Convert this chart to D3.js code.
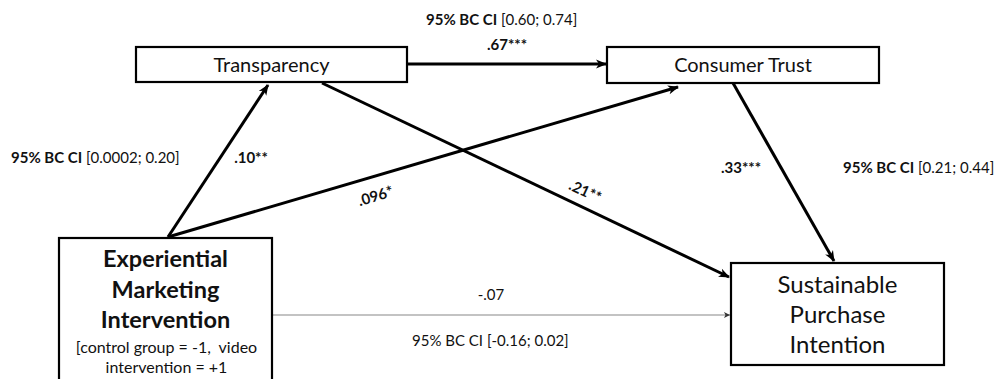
<!DOCTYPE html>
<html><head><meta charset="utf-8">
<script src="https://cdn.jsdelivr.net/npm/d3@7"></script>
<style>
html,body{margin:0;padding:0;background:#fff;}
svg{display:block;font-family:Lato,"Open Sans",sans-serif;}
text{white-space:pre;}
</style></head>
<body>
<svg id="c" width="1000" height="379"></svg>
<script>
// ---- data ----
const nodeIds = ["trans", "trust", "emi", "spi"];
const nodeLabels = [["Transparency"], ["Consumer Trust"], ["Experiential", "Marketing", "Intervention"], ["Sustainable", "Purchase", "Intention"]];
const emiNote = ["[control group = -1,  video", "intervention = +1"];
const pathFrom = ["emi", "emi", "trans", "trans", "trust", "emi"];
const pathTo = ["trans", "trust", "trust", "spi", "spi", "spi"];
const pathCoef = [".10**", ".096*", ".67***", ".21**", ".33***", "-.07"];
const pathSig = [true, true, true, true, true, false];
const ciPrefix = ["95% BC CI", "95% BC CI", "95% BC CI", "95% BC CI"];
const ciValues = ["[0.0002; 0.20]", "[0.60; 0.74]", "[0.21; 0.44]", "[-0.16; 0.02]"];
const ciBoldPrefix = [true, true, true, false];

// ---- layout (positions, not data) ----
const boxes = {
  trans: {x: 136, y: 47, w: 271, h: 35, fs: 20, bold: false, lh: 0, y0: 72},
  trust: {x: 607, y: 47, w: 272, h: 36, fs: 20, bold: false, lh: 0, y0: 72},
  emi:   {x: 59,  y: 238, w: 213, h: 160, fs: 23.5, bold: true, lh: 30.5, y0: 267},
  spi:   {x: 731, y: 263, w: 213, h: 102, fs: 24, bold: false, lh: 30, y0: 293}
};
const ends = [
  [[168, 237], [268, 85]],
  [[168, 237], [678, 87]],
  [[407, 64], [606, 64]],
  [[322, 83], [729, 277]],
  [[733, 83], [834, 261]],
  [[273, 315], [730, 315]]
];
const coefPos = [
  {x: 251, y: 163, rot: 0},
  {x: 377, y: 201, rot: -17},
  {x: 507, y: 50, rot: 0},
  {x: 583, y: 196, rot: 25},
  {x: 741, y: 173, rot: 0},
  {x: 491, y: 300, rot: 0}
];
const ciPos = [
  {x: 11, y: 163}, {x: 426, y: 25}, {x: 843, y: 173}, {x: 412, y: 346}
];

const svg = d3.select("#c");
const defs = svg.append("defs");
["big", "small"].forEach(id => {
  const m = defs.append("marker").attr("id", "ah-" + id)
    .attr("markerUnits", "userSpaceOnUse")
    .attr("viewBox", "-12 -6 14 12").attr("refX", 0).attr("refY", 0)
    .attr("markerWidth", 14).attr("markerHeight", 12).attr("orient", "auto");
  if (id === "big") m.append("path").attr("d", "M1,0 L-10,-4.5 L-7,0 L-10,4.5 Z").attr("fill", "#000");
  else m.append("path").attr("d", "M0,0 L-6,-3 L-4.5,0 L-6,3 Z").attr("fill", "#333");
});

// paths
svg.append("g").selectAll("line").data(d3.range(pathFrom.length)).join("line")
  .attr("x1", i => ends[i][0][0]).attr("y1", i => ends[i][0][1])
  .attr("x2", i => ends[i][1][0]).attr("y2", i => ends[i][1][1])
  .attr("stroke", i => pathSig[i] ? "#000" : "#888")
  .attr("stroke-width", i => pathSig[i] ? 3 : 1.2)
  .attr("marker-end", i => pathSig[i] ? "url(#ah-big)" : "url(#ah-small)");

// boxes
const g = svg.append("g").selectAll("g").data(nodeIds).join("g");
g.append("rect")
  .attr("x", d => boxes[d].x).attr("y", d => boxes[d].y)
  .attr("width", d => boxes[d].w).attr("height", d => boxes[d].h)
  .attr("fill", "#fff").attr("stroke", "#000").attr("stroke-width", 2.2);
g.each(function(d, i) {
  const b = boxes[d];
  const t = d3.select(this).append("text")
    .attr("text-anchor", "middle").attr("font-size", b.fs)
    .attr("font-weight", b.bold ? 700 : 400).attr("fill", "#111");
  nodeLabels[i].forEach((s, k) => t.append("tspan").attr("x", b.x + b.w / 2).attr("y", b.y0 + k * b.lh).text(s));
  if (d === "emi") {
    const n = d3.select(this).append("text").attr("text-anchor", "middle").attr("font-size", 16).attr("fill", "#111");
    emiNote.forEach((s, k) => n.append("tspan").attr("x", b.x + b.w / 2 + 1).attr("y", 353 + k * 20).text(s));
  }
});

// coefficient labels
svg.append("g").selectAll("text").data(d3.range(pathCoef.length)).join("text")
  .attr("transform", i => `translate(${coefPos[i].x},${coefPos[i].y}) rotate(${coefPos[i].rot})`)
  .attr("text-anchor", "middle")
  .attr("font-size", 15)
  .attr("font-weight", i => pathSig[i] ? 700 : 400)
  .attr("fill", "#111")
  .text(i => pathCoef[i]);

// CI labels
const ci = svg.append("g").selectAll("text").data(d3.range(ciValues.length)).join("text")
  .attr("x", i => ciPos[i].x).attr("y", i => ciPos[i].y)
  .attr("font-size", 15).attr("fill", "#111");
ci.append("tspan").attr("font-weight", i => ciBoldPrefix[i] ? 700 : 400).text(i => ciPrefix[i]);
ci.append("tspan").text(i => " " + ciValues[i]);
</script>
</body></html>
